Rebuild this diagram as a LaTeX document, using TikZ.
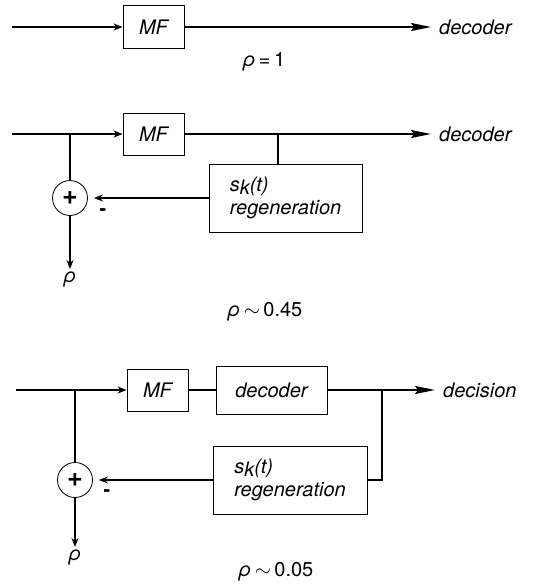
\documentclass[tikz,border=0pt]{standalone}
\usepackage{fontspec}
\setmainfont{TeX Gyre Heros}
\usetikzlibrary{arrows.meta}
\begin{document}
\begin{tikzpicture}[x=1pt,y=-1pt,
  font=\fontsize{20}{23}\selectfont\itshape,
  box/.style={draw,line width=0.8pt,inner sep=0pt},
  sumnode/.style={draw,circle,line width=0.8pt,minimum size=35pt,inner sep=0pt,font=\fontsize{27}{27}\selectfont\bfseries},
  lbl/.style={inner sep=0pt},
  rho/.style={lbl,font=\fontsize{20}{23}\selectfont},
  wire/.style={line width=1.7pt},
  arr/.style={wire,-{Stealth[length=9pt,width=7pt]}},
  bigarr/.style={wire,-{Stealth[length=20pt,width=8pt,inset=3pt]}}]
\useasboundingbox (0,0) rectangle (541,587);
% ---------- diagram 1
\coordinate (in1) at (12,27);
\node[box,minimum width=61pt,minimum height=43pt] (mf1) at (153.5,27) {MF};
\node[lbl,anchor=west] (dec1) at (439,27) {decoder};
\draw[arr] (in1) -- (mf1.west);
\draw[bigarr,shorten >=8pt] (mf1.east) -- (dec1.west);
\node[rho] (r1) at (264,62) {\textit{ρ}$\,$=$\,$1};
% ---------- diagram 2
\coordinate (in2) at (12,134);
\coordinate (j2) at (70,134);
\node[box,minimum width=61pt,minimum height=42pt] (mf2) at (153.5,134) {MF};
\node[lbl,anchor=west] (dec2) at (439,134) {decoder};
\node[box,minimum width=153pt,minimum height=68pt,align=left] (reg2) at (285.5,198) {s\raisebox{-3pt}{k}(t)\\regeneration};
\node[sumnode] (sum2) at (70,198) {\raisebox{1pt}{+}};
\coordinate (t2) at (278,134);
\node[rho,anchor=north] (r2) at (70,272) {\textit{ρ}};
\node[lbl,font=\fontsize{20}{23}\selectfont\bfseries] (m2) at (103,212) {-};
\draw[arr] (in2) -- (mf2.west);
\draw[bigarr,shorten >=8pt] (mf2.east) -- (dec2.west);
\draw[wire] (j2) -- (sum2.north);
\draw[wire] (t2) -- (t2 |- reg2.north);
\draw[arr,shorten >=6pt] (reg2.west) -- (sum2.east);
\draw[arr,shorten >=3pt] (sum2.south) -- (r2.north);
\node[rho] (r2b) at (265,312) {\textit{ρ}$\,\sim\,$0.45};
% ---------- diagram 3
\coordinate (in3) at (16,390);
\coordinate (j3) at (75,390);
\node[box,minimum width=61pt,minimum height=42pt] (mf3) at (157.5,390) {MF};
\node[box,minimum width=111pt,minimum height=48pt] (dc3) at (271.5,390) {decoder};
\node[lbl,anchor=west] (dec3) at (443,390) {decision};
\node[box,minimum width=154pt,minimum height=68pt,align=left] (reg3) at (290,480) {s\raisebox{-3pt}{k}(t)\\regeneration};
\node[sumnode] (sum3) at (75,480) {\raisebox{1pt}{+}};
\coordinate (t3) at (382,390);
\node[rho,anchor=north] (r3) at (75,550) {\textit{ρ}};
\node[lbl,font=\fontsize{20}{23}\selectfont\bfseries] (m3) at (107,493) {-};
\draw[arr] (in3) -- (mf3.west);
\draw[wire] (mf3.east) -- (dc3.west);
\draw[bigarr,shorten >=8pt] (dc3.east) -- (dec3.west);
\draw[wire] (t3) |- (reg3.east);
\draw[wire] (j3) -- (sum3.north);
\draw[arr,shorten >=6pt] (reg3.west) -- (sum3.east);
\draw[arr,shorten >=3pt] (sum3.south) -- (r3.north);
\node[rho] (r3b) at (276,572) {\textit{ρ}$\,\sim\,$0.05};
\end{tikzpicture}
\end{document}
